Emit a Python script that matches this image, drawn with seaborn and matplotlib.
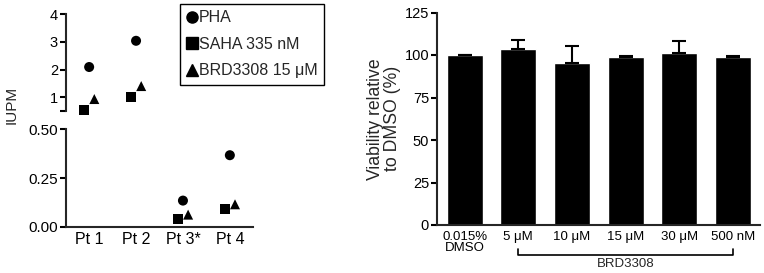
import numpy as np
import pandas as pd
import matplotlib
matplotlib.use("Agg")
import matplotlib.pyplot as plt
import matplotlib.transforms as mtransforms
from matplotlib.lines import Line2D
import seaborn as sns

# ---------------- data ----------------
patients = ["Pt 1", "Pt 2", "Pt 3*", "Pt 4"]
pha = [2.09, 3.04, 0.134, 0.367]
saha = [0.53, 1.0, 0.041, 0.089]
brd = [0.93, 1.4, 0.062, 0.115]
series_names = ["PHA", "SAHA 335 nM", "BRD3308 15 μM"]

upper_ticks = [1, 2, 3, 4]
lower_ticks = [0.0, 0.25, 0.5]
lower_ticklabels = ["0.00", "0.25", "0.50"]

via_labels = ["0.015%\nDMSO", "5 μM", "10 μM", "15 μM", "30 μM", "500 nM"]
via_means = [100, 103.3, 95.3, 98.6, 101.2, 98.6]
via_err = [0, 5.7, 9.8, 1.0, 7.0, 1.0]
via_ticks = [0, 25, 50, 75, 100, 125]
bracket_label = "BRD3308"
bracket_span = ("5 μM", "500 nM")

# ---------------- style ----------------
sns.set_theme(style="ticks")
plt.rcParams['font.family'] = ['Liberation Sans', 'DejaVu Sans']
LW = 1.5

W, H = 764, 273
fig = plt.figure(figsize=(W / 100, H / 100), dpi=100)


def ax_px(l, t, r, b):
    return fig.add_axes([l / W, 1 - b / H, (r - l) / W, (b - t) / H])


ax_up = ax_px(65.7, 14.3, 253.3, 110.9)
ax_lo = ax_px(65.7, 129.3, 253.3, 226.7)
ax_r = ax_px(436.7, 12.5, 760, 225)

# ---------------- left panel (broken axis) ----------------
markers = {"PHA": "o", "SAHA 335 nM": "s", "BRD3308 15 μM": "^"}
offsets = {"PHA": 0.0, "SAHA 335 nM": -0.1, "BRD3308 15 μM": 0.11}
rows = []
for name, vals in zip(series_names, [pha, saha, brd]):
    for i, v in enumerate(vals):
        rows.append({"series": name, "x": i + offsets[name], "value": v})
df = pd.DataFrame(rows)
break_at = 0.5
for ax, sub in [(ax_up, df[df.value >= break_at]), (ax_lo, df[df.value < break_at])]:
    sns.scatterplot(data=sub, x="x", y="value", style="series", markers=markers,
                    style_order=series_names, color="black", s=52, linewidth=0,
                    edgecolor="none", legend=False, ax=ax, clip_on=False)
    ax.set_xlim(-0.5, len(patients) - 0.5)
    ax.set_xlabel("")
    ax.set_ylabel("")
    for s in ["top", "right"]:
        ax.spines[s].set_visible(False)
    ax.spines["left"].set_linewidth(LW)
    ax.spines["bottom"].set_linewidth(LW)
    ax.tick_params(axis="y", length=4, width=LW, pad=1.5, colors="black")

ax_up.set_ylim(break_at, 4)
ax_up.set_yticks([break_at] + upper_ticks)
ax_up.set_yticklabels([""] + [str(t) for t in upper_ticks], fontsize=10.5)
ax_up.spines["bottom"].set_visible(False)
ax_up.set_xticks([])

ax_lo.set_ylim(0, break_at)
ax_lo.set_yticks(lower_ticks)
ax_lo.set_yticklabels(lower_ticklabels, fontsize=11)
ax_lo.set_xticks(range(len(patients)))
ax_lo.set_xticklabels(patients, fontsize=11.5)
ax_lo.tick_params(axis="x", length=0, pad=4, colors="black")
ax_lo.set_ylabel("IUPM", fontsize=11, va="center")
ax_lo.yaxis.set_label_coords(-0.286, 1.25)

handles = [Line2D([], [], marker=markers[n], color="black", linestyle="none",
                  markersize=8) for n in series_names]
leg = fig.legend(handles, series_names, loc="upper left",
                 bbox_to_anchor=(180 / W, 1 - 4 / H), borderaxespad=0,
                 fontsize=11.5, frameon=True, fancybox=False, edgecolor="black",
                 framealpha=1, borderpad=0.4, labelspacing=0.72,
                 handlelength=0.65, handletextpad=0.15)
leg.get_frame().set_linewidth(1.0)

# ---------------- right panel (bars) ----------------
sns.barplot(x=via_labels, y=via_means, order=via_labels, color="black",
            saturation=1, width=0.67, errorbar=None, ax=ax_r)
xpos = np.arange(len(via_labels))
ax_r.errorbar(xpos, via_means, yerr=[np.zeros(len(via_err)), via_err],
              fmt="none", ecolor="black", elinewidth=LW, capsize=5, capthick=LW)
ax_r.set_ylim(0, 125)
ax_r.set_yticks(via_ticks)
ax_r.set_yticklabels([str(t) for t in via_ticks], fontsize=10.5)
ax_r.set_xlim(-0.52, len(via_labels) - 0.5)
ax_r.set_xticks(xpos)
ax_r.set_xticklabels(via_labels, fontsize=9.5, linespacing=0.95)
ax_r.tick_params(axis="x", length=0, pad=4, colors="black")
ax_r.tick_params(axis="y", length=4, width=LW, pad=1.5, colors="black")
for s in ["top", "right"]:
    ax_r.spines[s].set_visible(False)
ax_r.spines["left"].set_linewidth(LW)
ax_r.spines["bottom"].set_linewidth(LW)
ax_r.set_ylabel("Viability relative\nto DMSO (%)", fontsize=12.7, linespacing=1.0,
                va="center")
ax_r.yaxis.set_label_coords(-0.163, 0.5)

# bracket under BRD3308 concentrations
i0 = via_labels.index(bracket_span[0])
i1 = via_labels.index(bracket_span[1])
trans = mtransforms.blended_transform_factory(ax_r.transData, ax_r.transAxes)
ax_r.plot([i0, i0, i1, i1], [-0.113, -0.142, -0.142, -0.113], transform=trans,
          clip_on=False, color="black", lw=1.2)
ax_r.text((i0 + i1) / 2, -0.183, bracket_label, transform=trans, ha="center",
          va="center", fontsize=9.5)

fig.savefig("out.png", dpi=100)
